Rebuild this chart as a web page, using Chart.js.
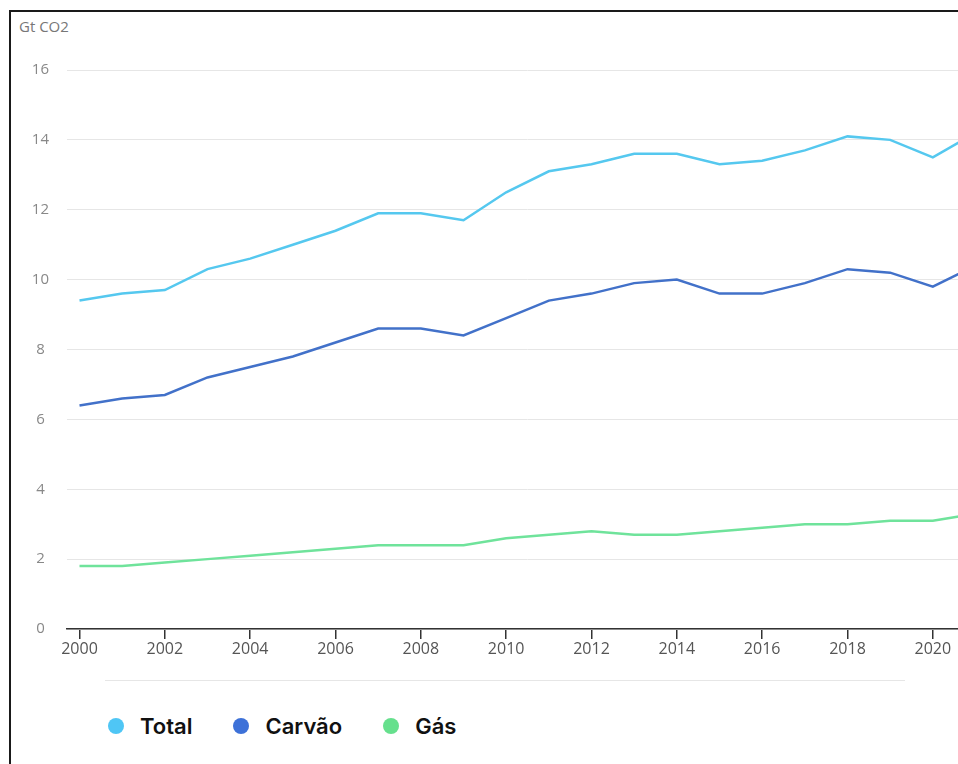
<!DOCTYPE html>
<html>
<head>
    <meta charset="utf-8">
    <script src="https://cdn.jsdelivr.net/npm/chart.js@4.4.1/dist/chart.umd.min.js"></script>
    <style>
        body { margin: 0; background: #fff; overflow: hidden; width: 958px; height: 764px; position: relative; font-family: "Open Sans", sans-serif; }
        #frame { position: absolute; left: 9px; top: 10px; width: 960px; height: 760px; border-top: 2px solid #1a1a1a; border-left: 2px solid #1a1a1a; pointer-events: none; z-index: 2; }
        #wrap { position: absolute; left: 0; top: 0; width: 998px; height: 669px; }
        #unit { position: absolute; left: 19px; top: 16px; font-size: 15px; color: #777; }
        #sep { position: absolute; left: 105px; top: 680px; width: 800px; border-top: 1px solid #e6e6e6; }
        #legenda { position: absolute; left: 108px; top: 713px; display: flex; align-items: center; font-family: Inter, sans-serif; font-weight: 600; font-size: 22px; color: #111; }
        .item { display: flex; align-items: center; margin-right: 41px; }
        .dot { width: 16px; height: 16px; border-radius: 50%; margin-right: 16px; }
    </style>
</head>
<body>
    <div id="frame"></div>
    <div id="unit">Gt CO2</div>
    <div id="wrap"><canvas id="grafico"></canvas></div>
    <div id="sep"></div>
    <div id="legenda"></div>

    <script>
        // dados (Gt CO2)
        const anni = [2000, 2001, 2002, 2003, 2004, 2005, 2006, 2007, 2008, 2009, 2010,
                      2011, 2012, 2013, 2014, 2015, 2016, 2017, 2018, 2019, 2020, 2021];
        const totale = [9.4, 9.6, 9.7, 10.3, 10.6, 11.0, 11.4, 11.9, 11.9, 11.7, 12.5,
                        13.1, 13.3, 13.6, 13.6, 13.3, 13.4, 13.7, 14.1, 14.0, 13.5, 14.2];
        const carvao = [6.4, 6.6, 6.7, 7.2, 7.5, 7.8, 8.2, 8.6, 8.6, 8.4, 8.9,
                        9.4, 9.6, 9.9, 10.0, 9.6, 9.6, 9.9, 10.3, 10.2, 9.8, 10.4];
        const gas = [1.8, 1.8, 1.9, 2.0, 2.1, 2.2, 2.3, 2.4, 2.4, 2.4, 2.6,
                     2.7, 2.8, 2.7, 2.7, 2.8, 2.9, 3.0, 3.0, 3.1, 3.1, 3.3];
        const tickAnni = [2000, 2002, 2004, 2006, 2008, 2010, 2012, 2014, 2016, 2018, 2020];
        const tickY = [0, 2, 4, 6, 8, 10, 12, 14, 16];

        const serie = [
            { nome: 'Total', valori: totale, colore: '#55c8ef', dot: '#4fc6f5' },
            { nome: 'Carvão', valori: carvao, colore: '#4271c9', dot: '#3d71d8' },
            { nome: 'Gás', valori: gas, colore: '#6fe39b', dot: '#66e08d' }
        ];

        let legenda = '';
        serie.forEach(s => {
            legenda += `<div class="item"><span class="dot" style="background:${s.dot}"></span>${s.nome}</div>`;
        });
        document.getElementById('legenda').innerHTML = legenda;

        let ctx = document.getElementById('grafico').getContext('2d');
        let chart = new Chart(ctx, {
            type: 'line',
            data: {
                datasets: serie.map(s => ({
                    label: s.nome,
                    data: anni.map((a, i) => ({ x: a, y: s.valori[i] })),
                    borderColor: s.colore,
                    backgroundColor: s.colore,
                    borderWidth: 2.5,
                    pointRadius: 0,
                    tension: 0,
                    fill: false
                }))
            },
            options: {
                responsive: true,
                maintainAspectRatio: false,
                animation: false,
                layout: { padding: { left: 0, top: 70, right: 10, bottom: 10 } },
                plugins: {
                    legend: { display: false },
                    tooltip: { enabled: false }
                },
                scales: {
                    x: {
                        type: 'linear',
                        min: 1999.707,
                        max: 2021.293,
                        afterBuildTicks: s => { s.ticks = tickAnni.map(v => ({ value: v })); },
                        afterFit: s => { s.height = 30; },
                        grid: { drawOnChartArea: false, tickLength: 10, color: '#333', lineWidth: 1.5 },
                        border: { display: true, color: '#333', width: 1.5 },
                        ticks: {
                            padding: 1,
                            color: '#555',
                            font: { family: 'Open Sans', size: 16 },
                            callback: v => String(v)
                        }
                    },
                    y: {
                        min: 0,
                        max: 16,
                        afterBuildTicks: s => { s.ticks = tickY.map(v => ({ value: v })); },
                        afterFit: s => { s.width = 67; },
                        grid: { drawTicks: false, color: '#e6e6e6', lineWidth: 1 },
                        border: { display: false },
                        ticks: {
                            crossAlign: 'center',
                            padding: 18,
                            color: '#888',
                            font: { family: 'Open Sans', size: 15 }
                        }
                    }
                }
            }
        });
    </script>
</body>
</html>
